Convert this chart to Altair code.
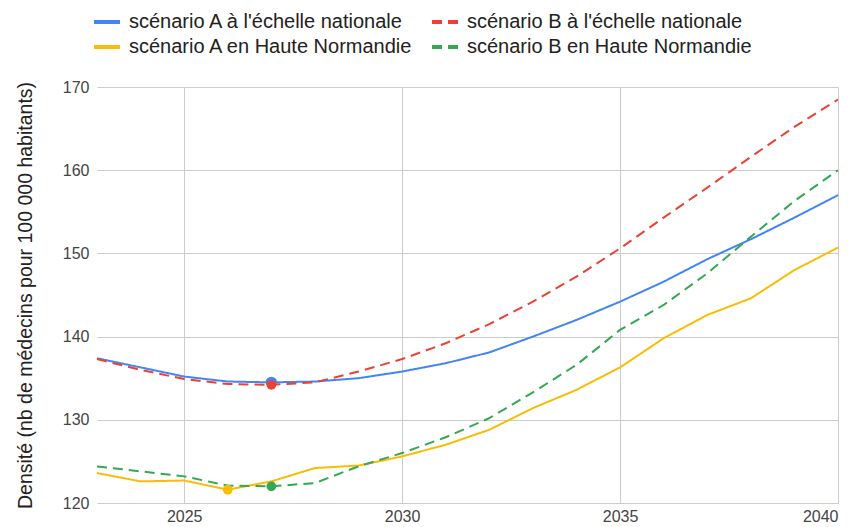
import altair as alt
import pandas as pd

years = [2023, 2024, 2025, 2026, 2027, 2028, 2029, 2030, 2031, 2032,
         2033, 2034, 2035, 2036, 2037, 2038, 2039, 2040]

series_names = [
    "scénario A à l'échelle nationale",
    "scénario A en Haute Normandie",
    "scénario B à l'échelle nationale",
    "scénario B en Haute Normandie",
]
colors = ["#4285F4", "#FBBC04", "#EA4335", "#34A853"]
dashes = [[1, 0], [1, 0], [10, 6], [10, 6]]

a_nat = [137.4, 136.3, 135.2, 134.6, 134.5, 134.6, 135.0, 135.8, 136.8, 138.1,
         140.0, 142.0, 144.2, 146.6, 149.3, 151.7, 154.3, 157.0]
a_hn = [123.6, 122.6, 122.7, 121.6, 122.6, 124.2, 124.5, 125.6, 127.0, 128.8,
        131.4, 133.6, 136.3, 139.8, 142.6, 144.6, 148.0, 150.7]
b_nat = [137.3, 136.0, 134.9, 134.3, 134.2, 134.5, 135.8, 137.3, 139.2, 141.5,
         144.2, 147.2, 150.6, 154.3, 157.9, 161.6, 165.2, 168.5]
b_hn = [124.4, 123.8, 123.2, 122.1, 122.0, 122.4, 124.4, 126.0, 127.9, 130.2,
        133.3, 136.6, 140.8, 143.8, 147.6, 152.0, 156.3, 160.0]

marker_years = [2027, 2026, 2027, 2027]
marker_sizes = [130, 95, 95, 95]
marker_order = [0, 2, 1, 3]

all_values = [a_nat, a_hn, b_nat, b_hn]

rows = []
for name, vals in zip(series_names, all_values):
    for yr, v in zip(years, vals):
        rows.append({"year": yr, "value": v, "series": name})
df = pd.DataFrame(rows)

mrows = []
for i, (name, vals) in enumerate(zip(series_names, all_values)):
    yr = marker_years[i]
    mrows.append({"year": yr, "value": vals[years.index(yr)], "series": name,
                  "size": marker_sizes[i], "order": marker_order[i]})
dfm = pd.DataFrame(mrows)

FONT = "Liberation Sans"

legend = alt.Legend(
    title=None,
    orient="none",
    legendX=-5,
    legendY=-80,
    columns=2,
    symbolType="stroke",
    symbolSize=676,
    symbolStrokeWidth=4,
    labelFontSize=20,
    labelFont=FONT,
    labelColor="#222222",
    labelOffset=7,
    rowPadding=0,
    columnPadding=10,
    labelLimit=400,
)

color_scale = alt.Scale(domain=series_names, range=colors)
dash_scale = alt.Scale(domain=series_names, range=dashes)

x_enc = alt.X(
    "year:Q",
    scale=alt.Scale(domain=[2023, 2040], nice=False, zero=False),
    axis=alt.Axis(values=[2025, 2030, 2035, 2040], format="d", title=None),
)
y_enc = alt.Y(
    "value:Q",
    scale=alt.Scale(domain=[120, 170], nice=False, zero=False),
    axis=alt.Axis(values=[120, 130, 140, 150, 160, 170],
                  title="Densité (nb de médecins pour 100 000 habitants)"),
)

lines = alt.Chart(df).mark_line(strokeWidth=2).encode(
    x=x_enc,
    y=y_enc,
    color=alt.Color("series:N", scale=color_scale, legend=legend),
    strokeDash=alt.StrokeDash("series:N", scale=dash_scale, legend=legend),
    detail="series:N",
)

points = alt.Chart(dfm).mark_point(filled=True, opacity=1).encode(
    x=alt.X("year:Q"),
    y=alt.Y("value:Q"),
    color=alt.Color("series:N", scale=color_scale, legend=None),
    size=alt.Size("size:Q", scale=None, legend=None),
    order=alt.Order("order:Q"),
)

chart = alt.layer(lines, points).properties(
    width=741,
    height=416,
    autosize=alt.AutoSizeParams(type="none"),
    padding={"left": 89, "top": 79, "right": 13, "bottom": 24},
).configure_view(
    stroke=None
).configure_axis(
    domain=False,
    ticks=False,
    gridColor="#cccccc",
    gridWidth=1,
    labelFont=FONT,
    labelFontSize=16,
    labelColor="#444444",
    titleFont=FONT,
    titleFontSize=19.5,
    titleFontWeight="normal",
    titleColor="#222222",
).configure_axisY(
    labelPadding=8,
    titlePadding=27,
).configure_axisX(
    labelPadding=5,
)

chart.save("out.html", embed_options={"renderer": "svg", "actions": False})
